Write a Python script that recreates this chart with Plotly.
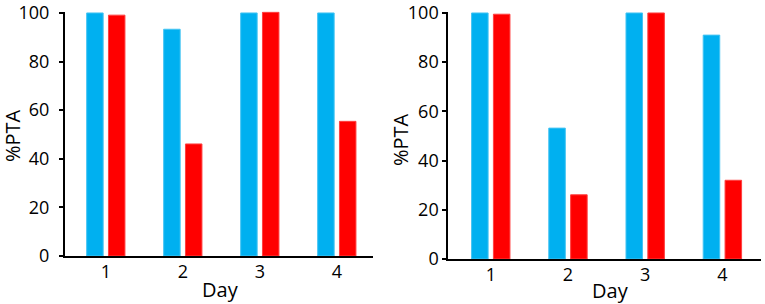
import plotly.graph_objects as go

days = [1, 2, 3, 4]
day_labels = ["1", "2", "3", "4"]
left_blue = [100, 93.3, 100, 100]
left_red = [99.1, 46.1, 100.3, 55.4]
right_blue = [100, 53.2, 100, 91.0]
right_red = [99.5, 26.1, 100, 32.0]
y_ticks = [0, 20, 40, 60, 80, 100]
y_title = "%PTA"
x_title = "Day"

BLUE = "#00B0F0"
RED = "#FF0000"
FONT = "Open Sans"

fig = go.Figure()
for xa, ya, vb, vr in [("x", "y", left_blue, left_red), ("x2", "y2", right_blue, right_red)]:
    fig.add_trace(go.Bar(x=days, y=vb, xaxis=xa, yaxis=ya, marker=dict(color=BLUE, line=dict(color="#45C4F3", width=1)), showlegend=False))
    fig.add_trace(go.Bar(x=days, y=vr, xaxis=xa, yaxis=ya, marker=dict(color=RED, line=dict(color="#FF4040", width=1)), showlegend=False))

W, H = 765, 304
xcommon = dict(tickmode="array", tickvals=days, ticktext=day_labels, showline=True, linecolor="black",
               linewidth=2, ticks="", showgrid=False, zeroline=False, automargin=False,
               ticklabelstandoff=-2,
               tickfont=dict(family=FONT, size=18, color="black"))
ycommon = dict(range=[0, 100.6], tickmode="array", tickvals=y_ticks, showline=True, linecolor="black",
               linewidth=2, ticks="outside", ticklen=4, tickwidth=1.5, tickcolor="black",
               showgrid=False, zeroline=False, automargin=False, ticklabeloverflow="allow",
               tickfont=dict(family=FONT, size=18, color="black"))

fig.update_layout(
    width=W, height=H, margin=dict(l=0, r=0, t=0, b=0),
    paper_bgcolor="white", plot_bgcolor="white",
    barmode="group", bargap=0.434, bargroupgap=0.243,
    xaxis=dict(xcommon, domain=[65 / W, 373 / W], range=[0.47, 4.47], anchor="y"),
    yaxis=dict(ycommon, domain=[48 / H, 292.5 / H], anchor="x", ticklabelstandoff=6),
    xaxis2=dict(xcommon, domain=[448.3 / W, 761 / W], range=[0.45, 4.5], anchor="y2"),
    yaxis2=dict(ycommon, domain=[45 / H, 292.5 / H], anchor="x2", ticklabelstandoff=0),
)
for xp, yp in [(12, 136), (400, 140)]:
    fig.add_annotation(text=y_title, xref="paper", yref="paper", x=xp / W, y=1 - yp / H,
                       xanchor="center", yanchor="middle", textangle=-90, showarrow=False,
                       font=dict(family=FONT, size=20, color="black"))
for xp, yp in [(221, 289), (610, 290)]:
    fig.add_annotation(text=x_title, xref="paper", yref="paper", x=xp / W, y=1 - yp / H,
                       xanchor="center", yanchor="middle", showarrow=False,
                       font=dict(family=FONT, size=20, color="black"))

fig.write_html("out.html", config={"displayModeBar": False},
               post_script="document.body.style.margin='0';document.body.style.overflow='hidden';")
